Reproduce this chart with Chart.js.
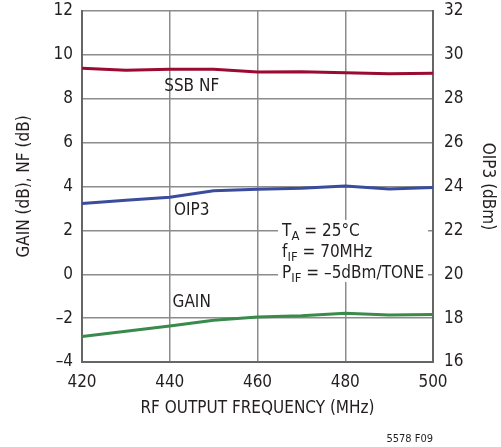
<!DOCTYPE html>
<html>
<head>
<meta charset="utf-8">
<script src="https://cdn.jsdelivr.net/npm/chart.js@4.4.1/dist/chart.umd.min.js"></script>
<style>
  html, body { margin: 0; padding: 0; background: #fff; }
  #wrap { width: 501px; height: 447px; position: relative; }
</style>
</head>
<body>
<div id="wrap"><canvas id="chart"></canvas></div>
<script>
// RF output frequency (MHz)
const freqs = [420, 430, 440, 450, 460, 470, 480, 490, 500];
const nfValues = [9.39, 9.30, 9.34, 9.34, 9.22, 9.23, 9.19, 9.14, 9.16];
const oip3Values = [23.23, 23.37, 23.51, 23.81, 23.87, 23.92, 24.02, 23.89, 23.96];
const gainValues = [-2.84, -2.60, -2.36, -2.10, -1.95, -1.89, -1.78, -1.86, -1.83];
const xTicks = [420, 440, 460, 480, 500];

const FONT = '"DejaVu Sans Condensed", "Roboto", sans-serif';
const gridCol = '#8c8c8c';

const toPts = (vals) => freqs.map((f, i) => ({ x: f, y: vals[i] }));
const minus = v => String(v).replace('-', '–');

const notes = {
  id: 'notes',
  afterDatasetsDraw(chart) {
    const { ctx, scales: { x, y } } = chart;
    ctx.save();
    ctx.fillStyle = '#231f20';
    ctx.textBaseline = 'middle';
    ctx.font = '17px ' + FONT;
    ctx.textAlign = 'center';
    ctx.fillText('SSB NF', x.getPixelForValue(445), y.getPixelForValue(8.54));
    ctx.fillText('OIP3', x.getPixelForValue(445), y.getPixelForValue(2.88));
    ctx.fillText('GAIN', x.getPixelForValue(445), y.getPixelForValue(-1.31));

    // condition box, masks grid lines
    const bx = x.getPixelForValue(465.6), by = y.getPixelForValue(1.93);
    ctx.fillStyle = '#fff';
    ctx.fillRect(bx - 4, by - 12, 150, 62);
    ctx.fillStyle = '#231f20';
    ctx.textAlign = 'left';
    const line = (parts, yy) => {
      let cx = bx;
      parts.forEach(([t, sub]) => {
        ctx.font = (sub ? '13px ' : '17px ') + FONT;
        ctx.fillText(t, cx, yy + (sub ? 5 : 0));
        cx += ctx.measureText(t).width;
      });
    };
    line([['T'], ['A', 1], [' = 25°C']], by);
    line([['f'], ['IF', 1], [' = 70MHz']], by + 21);
    line([['P'], ['IF', 1], [' = –5dBm/TONE']], by + 42);

    ctx.font = '11px ' + FONT;
    ctx.textAlign = 'right';
    ctx.fillText('5578 F09', x.right, 439);
    ctx.restore();
  }
};

const fixV = w => s => { s.width = w; s.paddingTop = 0; s.paddingBottom = 0; };

new Chart(document.getElementById('chart'), {
  type: 'line',
  data: {
    datasets: [
      { label: 'SSB NF', data: toPts(nfValues), yAxisID: 'y', borderColor: '#9b0a32', borderWidth: 3, pointRadius: 0, tension: 0 },
      { label: 'OIP3', data: toPts(oip3Values), yAxisID: 'y2', borderColor: '#3a4c9e', borderWidth: 3, pointRadius: 0, tension: 0 },
      { label: 'GAIN', data: toPts(gainValues), yAxisID: 'y', borderColor: '#3a8a4c', borderWidth: 3, pointRadius: 0, tension: 0 }
    ]
  },
  options: {
    responsive: true,
    maintainAspectRatio: false,
    animation: false,
    layout: { padding: { top: 11, left: 0, right: 0, bottom: 0 } },
    plugins: { legend: { display: false }, tooltip: { enabled: false } },
    scales: {
      x: {
        type: 'linear', min: 420, max: 500,
        afterFit: s => { s.height = 85; s.paddingLeft = 0; s.paddingRight = 0; },
        afterBuildTicks: s => { s.ticks = xTicks.map(v => ({ value: v })); },
        grid: { color: gridCol, lineWidth: 1.5, drawTicks: false },
        border: { color: '#666', width: 2 },
        ticks: { padding: 10, color: '#231f20', font: { family: FONT, size: 17 } },
        title: { display: true, text: 'RF OUTPUT FREQUENCY (MHz)', color: '#231f20', font: { family: FONT, size: 17 }, padding: { top: 4, bottom: 28 } }
      },
      y: {
        position: 'left', min: -4, max: 12,
        afterFit: fixV(82),
        grid: { color: gridCol, lineWidth: 1.5, drawTicks: false },
        border: { color: '#666', width: 2 },
        ticks: { stepSize: 2, padding: 9, color: '#231f20', font: { family: FONT, size: 17 }, callback: minus },
        title: { display: true, text: 'GAIN (dB), NF (dB)', color: '#231f20', font: { family: FONT, size: 17 }, padding: { top: 14 } }
      },
      y2: {
        position: 'right', min: 16, max: 32,
        afterFit: fixV(68),
        grid: { display: false, drawTicks: false },
        border: { color: '#666', width: 2 },
        ticks: { stepSize: 2, padding: 11, color: '#231f20', font: { family: FONT, size: 17 } },
        title: { display: true, text: 'OIP3 (dBm)', color: '#231f20', font: { family: FONT, size: 17 }, padding: { top: 3 } }
      }
    }
  },
  plugins: [notes]
});
</script>
</body>
</html>
